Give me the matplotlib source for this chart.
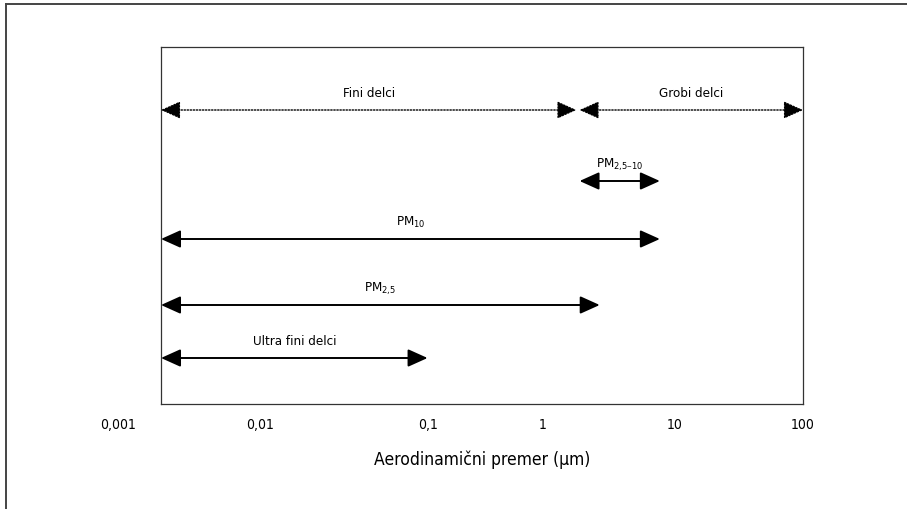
import numpy as np
import matplotlib
matplotlib.use("Agg")
import matplotlib.pyplot as plt
from matplotlib.lines import Line2D

plt.rcParams['font.family'] = ['DejaVu Sans']
plt.rcParams['font.stretch'] = 'condensed'
plt.rcParams['mathtext.default'] = 'regular'

# size classes: label, start (um), end (um), dotted line?
labels = ['Fini delci', 'Grobi delci', 'PM$_{2{,}5–10}$', 'PM$_{10}$',
          'PM$_{2{,}5}$', 'Ultra fini delci']
starts = [0.002, 1.9, 1.9, 0.002, 0.002, 0.002]
ends = [1.8, 100, 7.7, 7.7, 2.7, 0.1]
dotted = [True, True, False, False, False, False]

tick_values = [0.001, 0.01, 0.1, 1, 10, 100]
tick_labels = ['0,001', '0,01', '0,1', '1', '10', '100']

# layout: the schematic axis is not evenly spaced in log units
tick_pos = [119, 261, 428, 543, 675, 803]
row_y = [111, 111, 182, 240, 306, 359]


def forward(x):
    x = np.clip(np.asarray(x, dtype=float), 1e-12, None)
    return np.interp(np.log10(x), np.log10(tick_values), tick_pos)


def inverse(p):
    return 10 ** np.interp(p, tick_pos, np.log10(tick_values))


fig = plt.figure(figsize=(9.07, 5.10), dpi=100)
ax = fig.add_axes([161 / 907, 105 / 510, 642 / 907, 357 / 510])
ax.set_xscale('function', functions=(forward, inverse))
ax.set_xlim(0.002, 100)
ax.set_ylim(405, 48)
ax.set_xticks([])
ax.set_yticks([])
for s in ax.spines.values():
    s.set_color('#333333')
    s.set_linewidth(0.9)

for lab, a, b, dot, y in zip(labels, starts, ends, dotted, row_y):
    ax.annotate('', xy=(b, y), xytext=(a, y),
                arrowprops=dict(arrowstyle='<|-|>,head_length=1.0,head_width=0.45',
                                mutation_scale=12, color='black',
                                lw=1.0 if dot else 1.4,
                                linestyle=(0, (1, 1.2)) if dot else '-',
                                shrinkA=0, shrinkB=0),
                annotation_clip=False)
    mid = inverse((forward(a) + forward(b)) / 2)
    ax.annotate(lab, xy=(mid, y), xytext=(0, 10), textcoords='offset points',
                ha='center', va='baseline', fontsize=9.5)

trans = ax.get_xaxis_transform()
for v, t in zip(tick_values, tick_labels):
    ax.text(v, -0.056, t, transform=trans, ha='center', va='center',
            fontsize=10, clip_on=False)

ax.set_xlabel('Aerodinamični premer (µm)', fontsize=12.5, va='center')
ax.xaxis.set_label_coords(0.5, -0.154)

# outer frame (top and left edges only)
fig.add_artist(Line2D([6 / 907, 1], [1 - 5 / 510, 1 - 5 / 510],
                      transform=fig.transFigure, color='#444444', lw=1.4))
fig.add_artist(Line2D([6 / 907, 6 / 907], [0, 1 - 5 / 510],
                      transform=fig.transFigure, color='#444444', lw=1.4))

fig.savefig('out.png', dpi=100)
